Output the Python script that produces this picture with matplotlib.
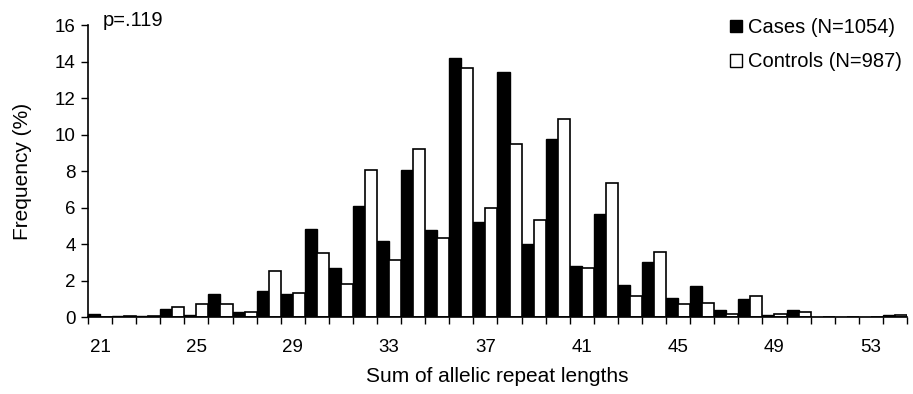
import numpy as np
import matplotlib.pyplot as plt
from matplotlib.patches import Patch

plt.rcParams['font.family'] = ['Liberation Sans', 'DejaVu Sans']

# repeat-length sums 21..54
lengths = list(range(21, 55))
cases = [0.18, 0.08, 0.08, 0.45, 0.10, 1.25, 0.25, 1.40, 1.25, 4.80,
         2.70, 6.10, 4.17, 8.08, 4.79, 14.22, 5.23, 13.44, 4.00, 9.73,
         2.80, 5.67, 1.74, 3.02, 1.06, 1.68, 0.37, 0.97, 0.11, 0.37,
         0.0, 0.0, 0.0, 0.10]
controls = [0.0, 0.08, 0.05, 0.55, 0.70, 0.70, 0.27, 2.50, 1.30, 3.50,
            1.80, 8.05, 3.10, 9.18, 4.35, 13.62, 5.98, 9.50, 5.30, 10.86,
            2.69, 7.37, 1.13, 3.56, 0.70, 0.79, 0.18, 1.13, 0.18, 0.27,
            0.0, 0.0, 0.0, 0.10]
tick_labels = [str(v) for v in range(21, 55, 4)]

fig = plt.figure(figsize=(9.13, 3.94), dpi=100)
ax = fig.add_axes([0.0964, 0.1954, 0.8970, 0.7411])

x = np.arange(len(lengths))
ax.bar(x - 0.25, cases, width=0.5, color='black', edgecolor='black', linewidth=1)
ax.bar(x + 0.25, controls, width=0.5, color='white', edgecolor='black', linewidth=1.2)

ax.set_xlim(-0.5, len(lengths) - 0.5)
ax.set_ylim(0, 16)
ax.set_yticks(range(0, 17, 2))
ax.tick_params(axis='y', direction='out', length=5, width=1, labelsize=13.5, pad=4)

# labels every fourth category, tick marks on category boundaries
ax.set_xticks(x[::4])
ax.set_xticklabels(tick_labels)
ax.set_xticks(np.arange(-0.5, len(lengths), 1), minor=True)
ax.tick_params(axis='x', which='major', length=0, labelsize=13.5, pad=16)
ax.tick_params(axis='x', which='minor', direction='out', length=5, width=1)

for side in ('top', 'right'):
    ax.spines[side].set_visible(False)
for side in ('left', 'bottom'):
    ax.spines[side].set_linewidth(1.2)

ax.set_ylabel('Frequency (%)', fontsize=15, labelpad=16)
ax.set_xlabel('Sum of allelic repeat lengths', fontsize=15, labelpad=8)

fig.text(0.113, 0.949, 'p=.119', fontsize=14.5, va='center')

handles = [Patch(facecolor='black', edgecolor='black'),
           Patch(facecolor='white', edgecolor='black')]
fig.legend(handles, ['Cases (N=1054)', 'Controls (N=987)'],
           loc='upper right', bbox_to_anchor=(1.008, 1.0), frameon=False,
           fontsize=14.5, handlelength=0.6, handleheight=0.6,
           handletextpad=0.3, labelspacing=0.75, borderaxespad=0.5)

fig.savefig('out.png', dpi=100)
